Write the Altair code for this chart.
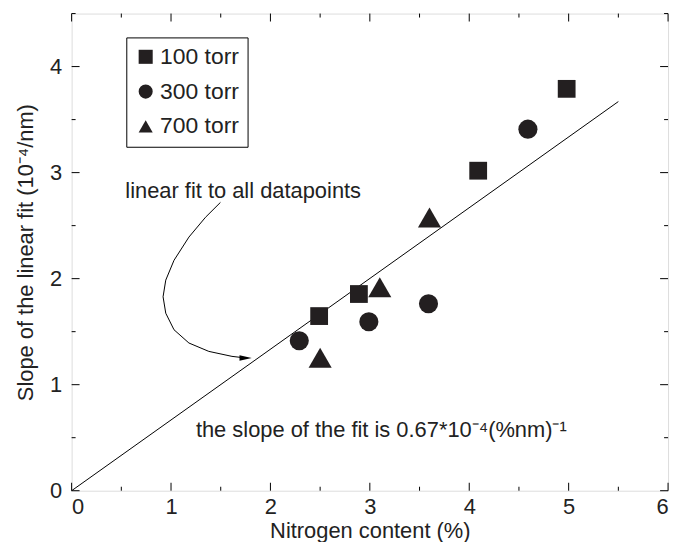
import altair as alt
import pandas as pd

# ---- data ----
series = ["100 torr"] * 4 + ["300 torr"] * 4 + ["700 torr"] * 3
nitrogen = [2.49, 2.89, 4.09, 4.98, 2.29, 2.99, 3.59, 4.59, 2.50, 3.10, 3.60]
slope = [1.647, 1.855, 3.018, 3.79, 1.414, 1.593, 1.763, 3.41, 1.255, 1.92, 2.576]

fit_x = [0.0, 5.5]
fit_y = [0.0, 3.67]

# curved annotation arrow (data units)
arrow_x = [1.497, 1.347, 1.18, 1.03, 0.947, 0.92, 0.947, 1.03, 1.18, 1.38, 1.613, 1.75]
arrow_y = [2.719, 2.579, 2.392, 2.173, 1.986, 1.829, 1.674, 1.518, 1.393, 1.314, 1.267, 1.252]
arrow_tip = [1.75, 1.252]

ann_text = ["linear fit to all datapoints", "the slope of the fit is 0.67*10\u207b\u2074(%nm)\u207b\u00b9"]
ann_x = [0.54, 1.25]
ann_y = [2.763, 0.506]

x_major = [0, 1, 2, 3, 4, 5, 6]
x_minor = [0.5, 1.5, 2.5, 3.5, 4.5, 5.5]
y_major = [0, 1, 2, 3, 4]
y_minor = [0.5, 1.5, 2.5, 3.5, 4.5]

W, H = 600, 480
FONT = "Liberation Sans"
INK = "#231f20"
SERIES = ["100 torr", "300 torr", "700 torr"]
SHAPES = ["square", "circle", "triangle-up"]
SIZES = [320, 370, 540]

pts = pd.DataFrame({"x": nitrogen, "y": slope, "series": series})
fit = pd.DataFrame({"x": fit_x, "y": fit_y})
arr = pd.DataFrame({"x": arrow_x, "y": arrow_y, "o": list(range(len(arrow_x)))})
tip = pd.DataFrame({"x": [arrow_tip[0]], "y": [arrow_tip[1]]})
ann = pd.DataFrame({"t": ann_text, "x": ann_x, "y": ann_y})

xs = alt.Scale(domain=[0, 6], nice=False, zero=False)
ys = alt.Scale(domain=[0, 4.5], nice=False, zero=False)

xax = alt.Axis(values=x_major, ticks=False, grid=False, domain=False, labelFontSize=22,
               labelFont=FONT, titleFont=FONT, titleFontSize=22, titleFontWeight="normal",
               labelPadding=6, titlePadding=3, labelColor="#222", titleColor="#222", format="d")
yax = alt.Axis(values=y_major, ticks=False, grid=False, domain=False, labelFontSize=22,
               labelFont=FONT, titleFont=FONT, titleFontSize=22, titleFontWeight="normal",
               labelPadding=10, titlePadding=12, labelColor="#222", titleColor="#222", format="d")

X = alt.X("x:Q", scale=xs, axis=xax, title="Nitrogen content (%)")
Y = alt.Y("y:Q", scale=ys, axis=yax, title="Slope of the linear fit (10\u207b\u2074/nm)")

line = alt.Chart(fit).mark_line(color="black", strokeWidth=1).encode(x=X, y=Y)

shape_scale = alt.Scale(domain=SERIES, range=SHAPES)
legend = alt.Legend(title=None, orient="none", legendX=55, legendY=24,
                    strokeColor="black", fillColor="white", padding=8,
                    labelFont=FONT, labelFontSize=23, labelColor="#222",
                    symbolSize=200, symbolFillColor=INK, symbolType="circle",
                    rowPadding=11, labelOffset=3)

point_layers = []
for i, (s, sz) in enumerate(zip(SERIES, SIZES)):
    point_layers.append(
        alt.Chart(pts).transform_filter(alt.datum.series == s)
        .mark_point(filled=True, color=INK, opacity=1, size=sz)
        .encode(x=alt.X("x:Q", scale=xs), y=alt.Y("y:Q", scale=ys),
                shape=alt.Shape("series:N", scale=shape_scale,
                                legend=legend if i == 0 else None))
    )

arrow_line = alt.Chart(arr).mark_line(color="black", strokeWidth=1).encode(
    x=alt.X("x:Q", scale=xs), y=alt.Y("y:Q", scale=ys), order="o:Q")
arrow_head = alt.Chart(tip).mark_point(shape="M-1,-0.45L1,0L-1,0.45Z", filled=True,
                                       color="black", opacity=1, size=150).encode(
    x=alt.X("x:Q", scale=xs), y=alt.Y("y:Q", scale=ys))

texts = alt.Chart(ann).mark_text(align="left", baseline="alphabetic", font=FONT,
                                 fontSize=22, color="#222").encode(
    x=alt.X("x:Q", scale=xs), y=alt.Y("y:Q", scale=ys), text="t:N")

# inward ticks on all four sides
def xticks(vals, length):
    d = pd.DataFrame({"v": vals})
    b = alt.Chart(d).mark_rule(color="black", strokeWidth=1).encode(
        x=alt.X("v:Q", scale=xs), y=alt.value(H), y2=alt.value(H - length))
    t = alt.Chart(d).mark_rule(color="black", strokeWidth=1).encode(
        x=alt.X("v:Q", scale=xs), y=alt.value(0), y2=alt.value(length))
    return [b, t]

def yticks(vals, length):
    d = pd.DataFrame({"v": vals})
    l = alt.Chart(d).mark_rule(color="black", strokeWidth=1).encode(
        y=alt.Y("v:Q", scale=ys), x=alt.value(0), x2=alt.value(length))
    r = alt.Chart(d).mark_rule(color="black", strokeWidth=1).encode(
        y=alt.Y("v:Q", scale=ys), x=alt.value(W), x2=alt.value(W - length))
    return [l, r]

tick_layers = xticks(x_major, 8) + xticks(x_minor, 4) + yticks(y_major, 8) + yticks(y_minor, 4)

chart = alt.layer(line, *tick_layers, arrow_line, arrow_head, texts, *point_layers).properties(
    width=W, height=H,
    autosize=alt.AutoSizeParams(type="none"),
    padding={"left": 64, "top": 4, "right": 10, "bottom": 50},
).configure_view(stroke="black", strokeWidth=1.6).configure(background="white")

chart.save("out.html", embed_options={"renderer": "svg", "actions": False})
